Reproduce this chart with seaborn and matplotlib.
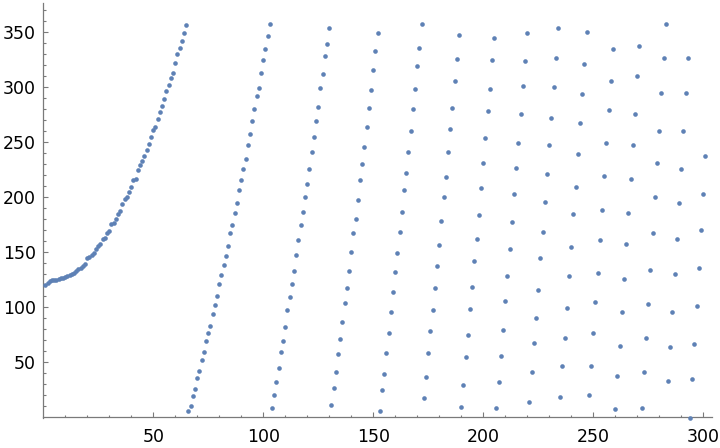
import matplotlib
matplotlib.use("Agg")
import matplotlib.pyplot as plt
import numpy as np
import pandas as pd
import seaborn as sns
from matplotlib.ticker import FixedLocator

# ---- data (value for n = 1, 2, 3, ...) ----
run1 = [120.5, 122.5, 123.9, 124.8, 124.5, 125.2, 125.4, 126.3, 127.0, 127.5,
        128.2, 129.5, 130.6, 131.5, 132.7, 134.4, 135.8, 137.2, 139.5, 144.8,
        145.5, 147.8, 149.0, 153.4, 156.2, 157.5, 162.2, 163.3, 167.8, 169.7,
        175.7, 176.6, 180.0, 184.5, 187.7, 193.6, 198.8, 200.3, 204.8, 209.4,
        216.0, 216.6, 224.8, 229.4, 233.0, 237.8, 243.3, 248.8, 255.1, 261.2,
        264.2, 271.5, 277.8, 283.3, 289.7, 296.6, 302.4, 308.8, 313.3, 322.4,
        330.3, 336.0, 342.4, 349.7, 356.9]
run2 = [6.0, 10.6, 19.7, 26.0, 36.0, 42.4, 52.4, 59.7, 69.7, 76.9, 83.3, 94.2,
        102.4, 110.6, 121.5, 129.7, 138.8, 146.9, 156.0, 167.8, 175.1, 186.0,
        195.1, 206.9, 216.0, 226.0, 235.1, 247.8, 257.8, 269.7, 280.6, 292.4,
        299.7, 313.3, 325.1, 335.1, 346.9, 357.8]
run3 = [8.8, 20.6, 32.4, 45.1, 59.7, 69.7, 82.4, 97.8, 109.1, 121.5, 133.3,
        147.8, 161.5, 175.1, 186.9, 200.6, 212.4, 226.0, 241.5, 255.1, 269.7,
        282.4, 299.7, 312.4, 328.8, 339.7, 354.2]
run4 = [11.5, 26.9, 41.5, 57.8, 71.5, 86.9, 104.2, 117.8, 133.3, 150.6, 167.8,
        180.6, 197.8, 216.0, 230.6, 246.0, 264.2, 281.5, 297.8, 316.0, 333.3,
        349.7]
run5 = [6.0, 25.1, 39.7, 58.8, 76.9, 96.0, 114.2, 132.4, 149.7, 168.8, 186.9,
        206.9, 222.4, 241.5, 260.6, 280.6, 298.8, 319.7, 336.0, 357.8]
run6 = [17.8, 36.9, 58.8, 78.8, 97.8, 117.8, 137.8, 156.9, 178.8, 200.6, 218.8,
        241.5, 262.4, 281.5, 306.0, 326.0, 347.8]
run7 = [9.7, 29.7, 55.1, 75.1, 98.8, 118.8, 142.4, 162.4, 184.2, 208.8, 231.5,
        254.2, 278.8, 298.8, 325.1, 345.1]
run8 = [8.8, 32.4, 56.0, 79.7, 106.0, 128.8, 153.3, 177.8, 203.3, 226.9, 249.7,
        276.0, 301.5, 324.2, 349.7]
run9 = [14.2, 41.5, 67.8, 90.6, 116.0, 145.1, 168.8, 196.0, 221.5, 247.8, 272.4,
        300.6, 326.9, 354.2]
run10 = [18.8, 46.9, 72.4, 99.7, 128.8, 155.1, 185.1, 209.7, 239.7, 267.8,
         294.2, 321.5, 350.6]
run11 = [20.6, 46.9, 76.9, 105.1, 131.5, 161.5, 188.8, 219.7, 249.7, 279.7,
         306.0, 335.1]
run12 = [7.8, 37.8, 65.1, 96.0, 126.0, 157.8, 186.0, 216.9, 247.8, 276.0,
         310.6, 337.8]
run13 = [8.8, 41.5, 72.4, 103.3, 134.2, 167.8, 200.6, 231.5, 260.6, 295.1,
         326.9, 357.8]
run14 = [33.3, 64.2, 96.0, 130.6, 162.4, 195.1, 226.0, 260.6, 295.1, 326.9]
run15 = [-0.3, 35.1, 66.9, 101.5, 136.0, 170.6, 203.3, 237.8]

values = (run1 + run2 + run3 + run4 + run5 + run6 + run7 + run8 + run9 +
          run10 + run11 + run12 + run13 + run14 + run15)
n_index = list(range(1, len(values) + 1))

x_ticks = [50, 100, 150, 200, 250, 300]
x_tick_labels = ["50", "100", "150", "200", "250", "300"]
y_ticks = [50, 100, 150, 200, 250, 300, 350]
y_tick_labels = ["50", "100", "150", "200", "250", "300", "350"]
x_minor = [v for v in range(10, 301, 10) if v % 50 != 0]
y_minor = [v for v in range(10, 371, 10) if v % 50 != 0]

df = pd.DataFrame({"n": n_index, "value": values})

# ---- drawing ----
sns.set_style("ticks")
plt.rcParams["font.family"] = ["DejaVu Sans"]

fig = plt.figure(figsize=(7.2, 4.48), dpi=100)
ax = fig.add_axes([0, 0, 1, 1])
ax.set_facecolor("white")

sns.scatterplot(data=df, x="n", y="value", ax=ax, color="#5E81B5",
                s=11, linewidth=0, legend=False, zorder=3)

ax.set_xlim(-19.68, 307.6)
ax.set_ylim(-27.9, 379.4)

axis_color = "#7a7a7a"
for side in ["top", "right"]:
    ax.spines[side].set_visible(False)
ax.spines["left"].set_position(("data", 0))
ax.spines["bottom"].set_position(("data", 0))
ax.spines["left"].set_bounds(-0.5, 376.6)
ax.spines["bottom"].set_bounds(0, 304)
for side in ["left", "bottom"]:
    ax.spines[side].set_color(axis_color)
    ax.spines[side].set_linewidth(0.9)

ax.set_xticks(x_ticks)
ax.set_xticklabels(x_tick_labels)
ax.set_yticks(y_ticks)
ax.set_yticklabels(y_tick_labels)
ax.xaxis.set_minor_locator(FixedLocator(x_minor))
ax.yaxis.set_minor_locator(FixedLocator(y_minor))

ax.tick_params(which="both", direction="in", color=axis_color, width=0.8,
               labelcolor="black", labelsize=12.5)
ax.tick_params(which="major", length=3.4)
ax.tick_params(which="minor", length=1.8)
ax.tick_params(axis="x", which="major", pad=8)
ax.tick_params(axis="y", which="major", pad=5.3)

ax.set_xlabel("")
ax.set_ylabel("")
ax.grid(False)

fig.savefig("out.png", dpi=100, facecolor="white")
